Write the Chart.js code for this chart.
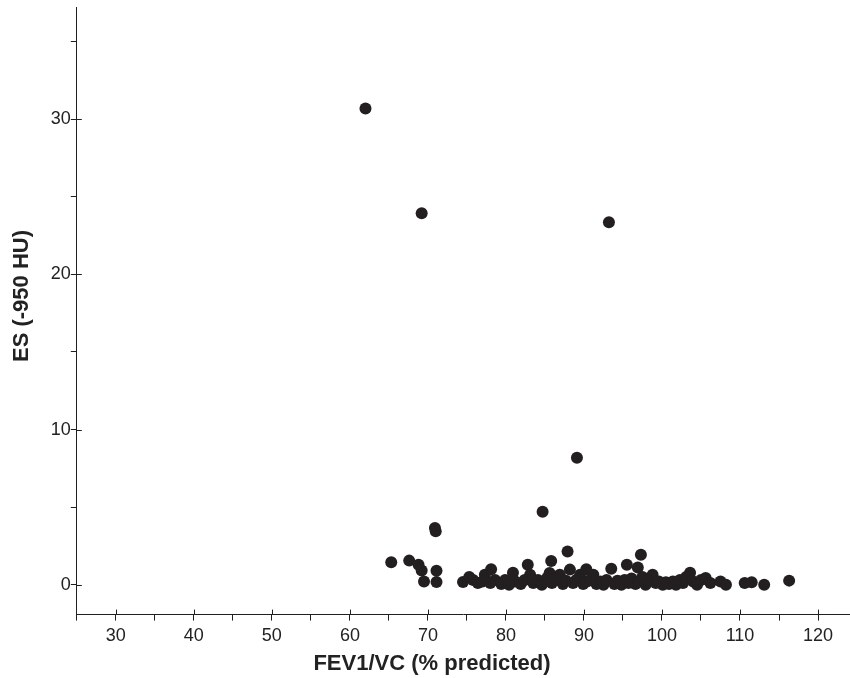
<!DOCTYPE html>
<html>
<head>
<meta charset="utf-8">
<script src="https://cdn.jsdelivr.net/npm/chart.js@4.4.0/dist/chart.umd.min.js"></script>
<style>
  html, body { margin: 0; padding: 0; background: #fff; overflow: hidden; }
  #wrap { width: 856px; height: 678px; }
</style>
</head>
<body>
<div id="wrap"><canvas id="scatterChart"></canvas></div>
<script>
// FEV1/VC (% predicted) vs emphysema score
const fev1vc = [
  62.0, 69.2, 93.2, 89.1, 84.7, 70.9, 71.0,
  87.9, 85.8, 97.3, 65.3, 67.6, 68.8, 69.2, 69.5, 71.1, 71.1,
  74.5, 75.3, 75.8, 77.3, 78.1, 78.6, 79.9, 80.9, 81.2, 82.8, 83.1,
  84.1, 85.6, 86.9, 88.2, 89.5, 90.3, 95.5, 93.5, 96.9, 91.2, 98.8, 103.6,
  76.4, 77.0, 78.0, 79.4, 80.4, 81.9, 82.4, 83.5, 84.6, 85.0, 85.3, 85.9,
  86.4, 87.3, 87.7, 88.6, 89.0, 89.9, 90.4, 90.9, 91.6, 92.1, 92.5, 92.9,
  93.9, 94.3, 94.8, 95.2, 95.7, 96.1, 96.6, 97.0, 97.5, 97.9, 98.3, 99.2,
  99.6, 100.1, 100.5, 100.9, 101.4, 101.8, 102.3, 102.7, 103.1, 104.0,
  104.5, 105.0, 105.6, 106.2, 107.5, 108.2, 110.6, 111.5, 113.1, 116.3
];
const es = [
  30.7, 23.95, 23.37, 8.18, 4.70, 3.65, 3.45,
  2.14, 1.52, 1.93, 1.44, 1.55, 1.29, 0.92, 0.21, 0.90, 0.17,
  0.17, 0.50, 0.30, 0.64, 1.00, 0.30, 0.30, 0.77, 0.20, 1.29, 0.64,
  0.30, 0.75, 0.64, 0.97, 0.64, 1.00, 1.29, 1.03, 1.10, 0.64, 0.64, 0.77,
  0.10, 0.20, 0.10, 0.05, 0.00, 0.05, 0.30, 0.10, 0.00, 0.20, 0.45, 0.10,
  0.30, 0.05, 0.25, 0.10, 0.30, 0.05, 0.20, 0.35, 0.05, 0.20, 0.00, 0.30,
  0.05, 0.25, 0.00, 0.30, 0.10, 0.40, 0.05, 0.20, 0.50, 0.00, 0.30, 0.10,
  0.20, 0.00, 0.15, 0.05, 0.20, 0.00, 0.30, 0.10, 0.50, 0.20,
  0.00, 0.30, 0.43, 0.10, 0.20, 0.00, 0.10, 0.15, 0.00, 0.26
];
const xTicks = [25, 30, 35, 40, 45, 50, 55, 60, 65, 70, 75, 80, 85, 90, 95, 100, 105, 110, 115, 120];
const yTicks = [0, 5, 10, 15, 20, 25, 30, 35];
const xTitle = 'FEV1/VC (% predicted)';
const yTitle = 'ES (-950 HU)';

const points = fev1vc.map((x, i) => ({ x: x, y: es[i] }));
const ink = '#231f20';
const tickFont = { family: "'Liberation Sans', Arial", size: 18 };

// major ticks cross the axis line; titles sit a bit off-centre like the original
const axisExtras = {
  id: 'axisExtras',
  afterDraw(chart) {
    const xs = chart.scales.x, ys = chart.scales.y;
    const c = chart.ctx;
    c.save();
    c.strokeStyle = ink;
    c.lineWidth = 1;
    xTicks.filter(v => v % 10 === 0).forEach(v => {
      const px = Math.round(xs.getPixelForValue(v)) + 0.5;
      c.beginPath();
      c.moveTo(px, xs.top - 5);
      c.lineTo(px, xs.top);
      c.stroke();
    });
    yTicks.filter(v => v % 10 === 0).forEach(v => {
      const py = Math.round(ys.getPixelForValue(v)) + 0.5;
      c.beginPath();
      c.moveTo(ys.right, py);
      c.lineTo(ys.right + 5, py);
      c.stroke();
    });
    c.fillStyle = '#222';
    c.font = 'bold 22px "Liberation Sans", Arial';
    c.textAlign = 'center';
    c.textBaseline = 'middle';
    c.fillText(xTitle, 432, 664);
    c.translate(22, 296);
    c.rotate(-Math.PI / 2);
    c.fillText(yTitle, 0, 0);
    c.restore();
  }
};

new Chart(document.getElementById('scatterChart'), {
  type: 'scatter',
  data: {
    datasets: [{
      data: points,
      backgroundColor: ink,
      borderColor: ink,
      pointRadius: 6,
      pointHoverRadius: 6,
      borderWidth: 0,
    }],
  },
  options: {
    responsive: true,
    maintainAspectRatio: false,
    animation: false,
    clip: false,
    layout: { padding: { top: 0, right: 0, left: 6, bottom: 3 } },
    plugins: { legend: { display: false }, tooltip: { enabled: false } },
    scales: {
      x: {
        type: 'linear',
        min: 25,
        max: 124.1,
        afterBuildTicks: axis => { axis.ticks = xTicks.map(v => ({ value: v })); },
        grid: { drawOnChartArea: false, color: ink, tickLength: 6 },
        border: { color: ink, width: 1 },
        ticks: {
          autoSkip: false,
          maxRotation: 0,
          color: '#222',
          padding: 5,
          font: tickFont,
          callback: v => (v % 10 === 0 ? v : ''),
        },
        title: {
          display: true,
          text: xTitle,
          color: 'rgba(0,0,0,0)',
          font: { family: "'Liberation Sans', Arial", size: 19, weight: 'bold' },
          padding: { top: 0, bottom: 0 },
        },
      },
      y: {
        type: 'linear',
        min: -1.93,
        max: 37.2,
        afterBuildTicks: axis => { axis.ticks = yTicks.map(v => ({ value: v })); },
        grid: { drawOnChartArea: false, color: ink, tickLength: 6 },
        border: { color: ink, width: 1 },
        ticks: {
          autoSkip: false,
          color: '#222',
          padding: 0,
          font: { family: "'Liberation Sans', Arial", size: 18, lineHeight: 0.85 },
          callback: v => (v % 10 === 0 ? v : ''),
        },
        title: {
          display: true,
          text: yTitle,
          color: 'rgba(0,0,0,0)',
          font: { family: "'Liberation Sans', Arial", size: 19, weight: 'bold' },
          padding: { top: 0, bottom: 22 },
        },
      },
    },
  },
  plugins: [axisExtras],
});
</script>
</body>
</html>
